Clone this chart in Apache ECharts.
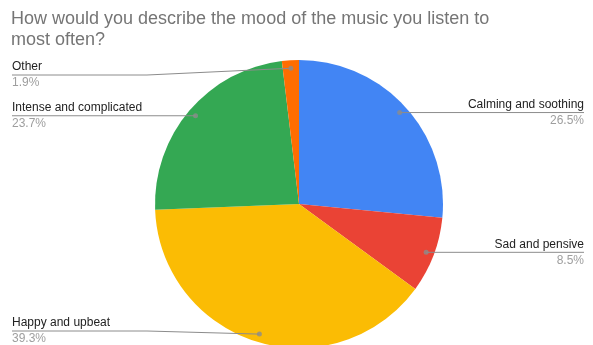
<!DOCTYPE html>
<html><head><meta charset="utf-8">
<script src="https://cdn.jsdelivr.net/npm/echarts@6/dist/echarts.min.js"></script>
<style>html,body{margin:0;padding:0;background:#fff}#c{width:593px;height:345px}</style>
</head><body><div id="c"></div>
<script>
const titleText = 'How would you describe the mood of the music you listen to\nmost often?';
const categories = ['Calming and soothing', 'Sad and pensive', 'Happy and upbeat', 'Intense and complicated', 'Other'];
const values = [26.5, 8.5, 39.3, 23.7, 1.9];
const colors = ['#4285F4', '#EA4335', '#FBBC04', '#34A853', '#FF6D01'];

const CX = 299, CY = 204, R = 144, DOT_R = 136;
const FONT = 'Arial, "Liberation Sans", sans-serif';
const total = values.reduce((a, b) => a + b, 0);
const mids = [];
let acc = 0;
values.forEach(v => { mids.push(acc + v / 2); acc += v; });
function dotPoint(i) {
  const a = mids[i] / total * 2 * Math.PI;
  return [CX + DOT_R * Math.sin(a), CY - DOT_R * Math.cos(a)];
}
const pieData = categories.map((c, i) => ({name: c, value: values[i]}));

const chart = echarts.init(document.getElementById('c'), null, {renderer: 'canvas'});
chart.setOption({
  animation: false,
  backgroundColor: '#fff',
  title: {
    text: titleText,
    left: 6, top: 4,
    textStyle: {fontFamily: FONT, fontSize: 18, fontWeight: 'normal', color: '#757575', lineHeight: 21}
  },
  polar: {center: [CX, CY], radius: R},
  angleAxis: {type: 'value', min: 0, max: total, startAngle: 90, clockwise: true, show: false},
  radiusAxis: {type: 'value', min: 0, max: R, show: false},
  series: [{
    type: 'pie',
    center: [CX, CY],
    radius: R,
    startAngle: 90,
    clockwise: true,
    silent: true,
    z: 1,
    data: pieData.map((d, i) => ({name: d.name, value: d.value, itemStyle: {color: colors[i]}})),
    label: {show: false},
    labelLine: {show: false}
  }, {
    type: 'pie',
    center: [CX, CY],
    radius: R,
    startAngle: 90,
    clockwise: true,
    silent: true,
    z: 3,
    data: pieData,
    itemStyle: {color: 'rgba(0,0,0,0)'},
    label: {
      show: true,
      position: 'outside',
      fontFamily: FONT,
      formatter: p => '{n|' + p.name + '}\n{p|' + values[p.dataIndex].toFixed(1) + '%}',
      rich: {
        n: {fontFamily: FONT, fontSize: 12, color: '#222', lineHeight: 16},
        p: {fontFamily: FONT, fontSize: 12, color: '#9e9e9e', lineHeight: 16}
      }
    },
    labelLine: {show: true, lineStyle: {color: '#8c8c8c', width: 1}},
    labelLayout: function (p) {
      const i = p.dataIndex;
      const d = dotPoint(i);
      const y = Math.min(Math.max(d[1], 75), 331);
      if (d[0] < CX) {
        return {x: 12, y: y, align: 'left', verticalAlign: 'middle',
          labelLinePoints: [d, [Math.min(d[0], 147), y], [12, y]]};
      }
      return {x: 584, y: y, align: 'right', verticalAlign: 'middle',
        labelLinePoints: [d, [Math.max(d[0], 449), y], [584, y]]};
    }
  }, {
    type: 'scatter',
    coordinateSystem: 'polar',
    silent: true,
    symbolSize: 5,
    itemStyle: {color: '#8c8c8c'},
    data: mids.map(m => [DOT_R, m]),
    z: 5
  }]
});
</script>
</body></html>
